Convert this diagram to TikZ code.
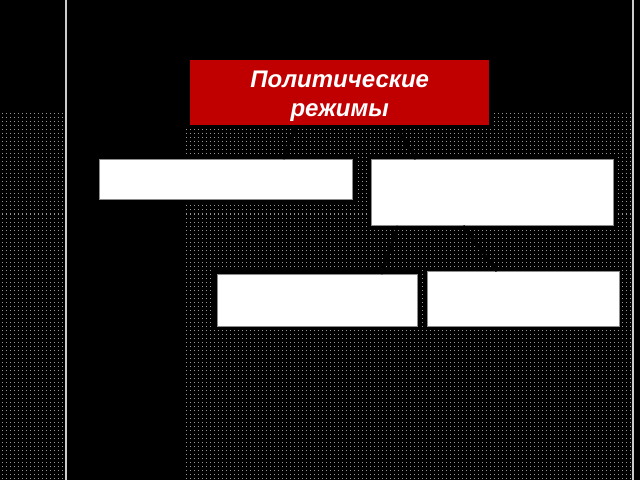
\documentclass[tikz,border=0pt]{standalone}
\usepackage{fontspec}
\setmainfont{Liberation Sans}
\usetikzlibrary{patterns}
\pgfdeclarepatternformonly{mydots}{\pgfqpoint{-1pt}{-1pt}}{\pgfqpoint{5pt}{5pt}}{\pgfqpoint{4pt}{4pt}}{\pgfpathrectangle{\pgfqpoint{1.5pt}{1.5pt}}{\pgfqpoint{1pt}{1pt}}\pgfusepath{fill}}
\definecolor{redbox}{RGB}{192,0,0}
\definecolor{dotgray}{RGB}{150,150,150}
\definecolor{edgegray}{RGB}{140,140,140}
\tikzset{
  dotted area/.style={pattern=mydots, pattern color=dotgray, draw=none},
  whitebox/.style={draw=edgegray, line width=0.8pt, fill=white, inner sep=0pt, anchor=north west},
  halo/.style={fill=black, draw=none},
  connector/.style={draw=black, line width=3pt},
  titlebox/.style={fill=redbox, draw=none, inner sep=0pt, anchor=north west},
  titletext/.style={text=white, inner sep=0pt,
    font=\fontsize{24}{29}\selectfont\bfseries\itshape, align=center},
}
\begin{document}
\begin{tikzpicture}[x=1pt,y=-1pt]
\useasboundingbox (0,0) rectangle (640,480);
\fill[black] (0,0) rectangle (640,480);
% dotted regions
\fill[dotted area] (0,113) rectangle (64,480);
\fill[dotted area] (184,113) rectangle (632,480);
% vertical lines
\draw[line width=1.5pt, color=white!80!black] (66,0) -- (66,480);
\draw[line width=1.5pt, color=white!80!black] (633,0) -- (633,480);
% halo around title
\fill[halo] (186,56) rectangle (493,129);
% connectors
\coordinate (t1) at (296,126);
\coordinate (t2) at (396,126);
\coordinate (r1) at (398,226);
\coordinate (r2) at (463,226);
% title
\node[titlebox, minimum width=299pt, minimum height=65pt] (title) at (190,60) {};
\node[titletext] (ttext) at ([yshift=-4pt]title.center) {Политические\\режимы};
% halos
\fill[halo] (96,156) rectangle (355,202);
\fill[halo] (368,156) rectangle (616,228);
\fill[halo] (214,270) rectangle (420,329);
\fill[halo] (424,268) rectangle (622,329);
% boxes
\node[whitebox, minimum width=253pt, minimum height=40pt] (left) at (99,159) {};
\node[whitebox, minimum width=242pt, minimum height=66pt] (right) at (371,159) {};
\node[whitebox, minimum width=200pt, minimum height=52pt] (bl) at (217,274) {};
\node[whitebox, minimum width=192pt, minimum height=55pt] (br) at (427,271) {};
\draw[connector] (t1) -- (left.north -| 283,0);
\draw[connector] (t2) -- (right.north -| 416,0);
\draw[connector] (r1) -- (bl.north -| 381,0);
\draw[connector] (r2) -- (br.north -| 497,0);
\end{tikzpicture}
\end{document}
